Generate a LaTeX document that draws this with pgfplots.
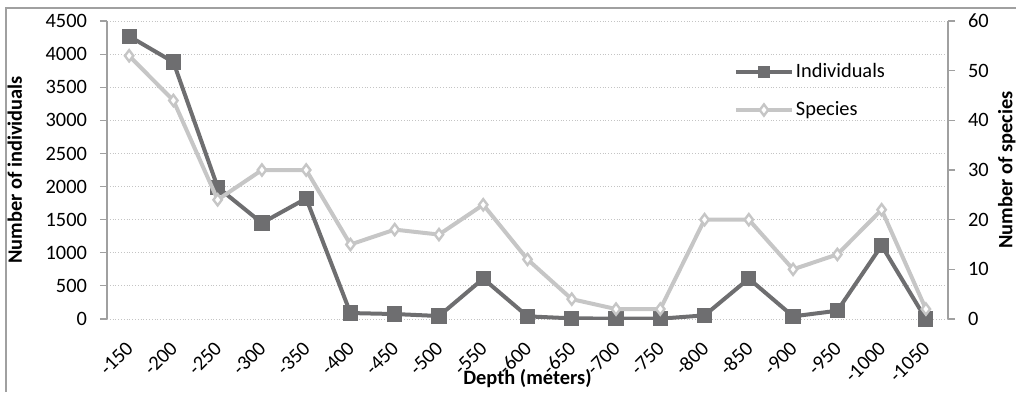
\documentclass[border=0pt]{standalone}
\usepackage{pgfplots}
\pgfplotsset{compat=1.18}
\usepackage{fontspec}
\setmainfont{Carlito}
\definecolor{indc}{HTML}{6E6E70}
\definecolor{spc}{HTML}{C6C6C6}
\definecolor{axc}{HTML}{A0A0A0}
\definecolor{gridc}{HTML}{C4C4C4}
\begin{document}
\begin{tikzpicture}
\useasboundingbox (0,0) rectangle (508pt,196pt);
\draw[axc, line width=0.8pt] (3pt,0) -- (3pt,192pt) -- (508pt,192pt);
\pgfplotsset{
  every axis/.append style={
    scale only axis, width=420.5pt, height=149pt,
    at={(53.5pt,36.5pt)}, anchor=south west,
    xmin=-0.5, xmax=18.5,
    font=\fontsize{10.2}{12}\selectfont,
    /pgf/number format/assume math mode=true,
    /pgf/number format/1000 sep={},
    tick align=outside,
    major tick length=3.5pt,
    tick style={axc, line width=0.6pt},
    axis line style={axc, line width=0.8pt},
  },
}
\begin{axis}[
  axis y line*=left,
  axis x line*=bottom,
  x axis line style={draw=none},
  ymin=0, ymax=4500,
  ytick={0,500,...,4500},
  xtick={0,...,18},
  xticklabels={-150,-200,-250,-300,-350,-400,-450,-500,-550,-600,-650,-700,-750,-800,-850,-900,-950,-1000,-1050},
  major x tick style={draw=none},
  xticklabel style={xshift=2.7pt, yshift=-7.1pt, rotate=45, anchor=east},
  yticklabel style={xshift=-3pt},
  ymajorgrids,
  grid style={gridc, densely dotted, line width=0.5pt},
  ylabel={\bfseries Number of individuals},
  ylabel style={at={(axis description cs:0,0.5)}, anchor=south, xshift=0pt, yshift=39pt},
  xlabel={\bfseries Depth (meters)},
  xlabel style={at={(axis description cs:0.5,0)}, anchor=base, yshift=-32.5pt},
]
\addplot[indc, line width=2pt, mark=square*, mark size=2.8pt, mark options={solid, fill=indc}] coordinates {
(0,4270) (1,3880) (2,1990) (3,1450) (4,1820) (5,90) (6,75) (7,45) (8,610) (9,40)
(10,10) (11,5) (12,5) (13,55) (14,610) (15,40) (16,125) (17,1110) (18,0)};
\end{axis}
\begin{axis}[
  axis y line*=right,
  axis x line=none,
  ymin=0, ymax=60,
  ytick={0,10,...,60},
  yticklabel style={xshift=3pt},
  ylabel={\bfseries Number of species},
  ylabel style={at={(axis description cs:1,0.5)}, anchor=north, yshift=-21.5pt},
  legend style={draw=none, fill=none, at={(rel axis cs:0.745,0.866)}, anchor=north west,
    font=\fontsize{10.2}{12}\selectfont, row sep=8.5pt, inner sep=0pt,
    nodes={inner sep=1pt}},
  legend cell align=left,
  legend image code/.code={\draw[mark repeat=2, mark phase=2, #1] plot coordinates {(0pt,0pt) (14pt,0pt) (28pt,0pt)};},
]
\addlegendimage{indc, line width=2pt, mark=square*, mark size=2.2pt, mark options={solid, fill=indc}}
\addlegendentry{Individuals}
\addplot[spc, line width=2pt, mark=diamond*, mark size=2.8pt, mark options={solid, fill=white, draw=spc, line width=1.2pt}] coordinates {
(0,53) (1,44) (2,24) (3,30) (4,30) (5,15) (6,18) (7,17) (8,23) (9,12)
(10,4) (11,2) (12,2) (13,20) (14,20) (15,10) (16,13) (17,22) (18,2)};
\addlegendentry{Species}
\end{axis}
\end{tikzpicture}
\end{document}
